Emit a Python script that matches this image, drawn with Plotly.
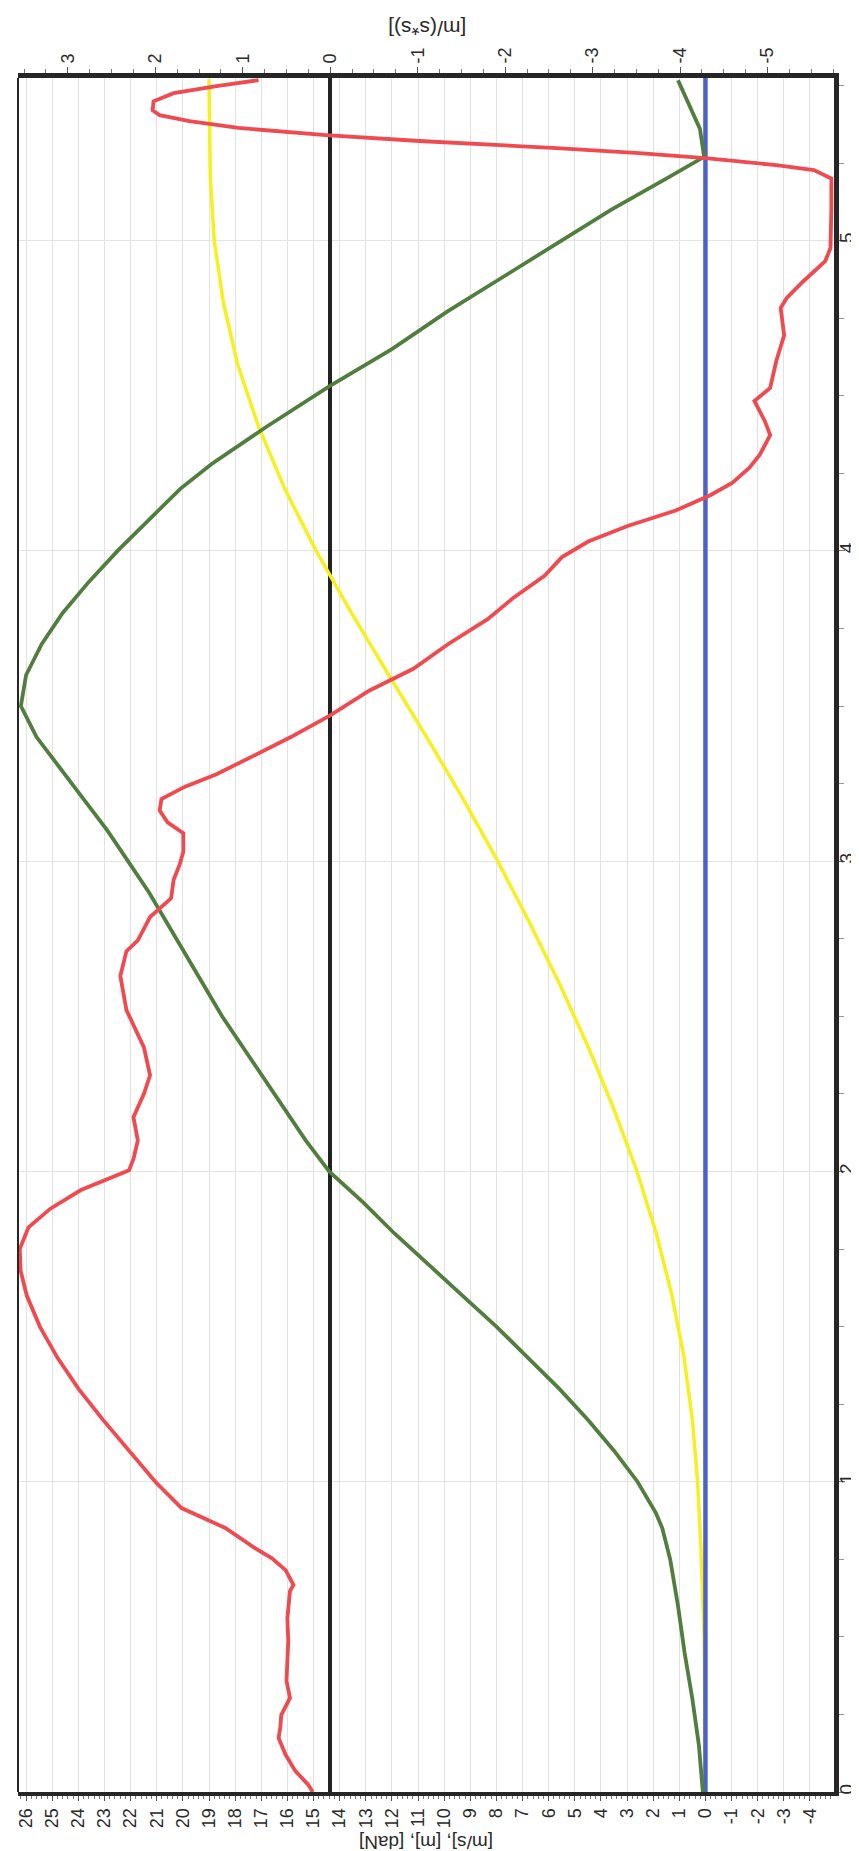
import plotly.graph_objects as go

# ---------------- data ----------------
time_ticks = [0, 1, 2, 3, 4, 5]
primary_ticks = list(range(-4, 27))          # -4 ... 26
secondary_ticks = list(range(-5, 4))         # -5 ... 3

# acceleration [m/(s*s)] (secondary axis) - red
red_t = [0.0, 0.023, 0.068, 0.12, 0.174, 0.21, 0.248, 0.303, 0.358, 0.42, 0.487, 0.56, 0.648, 0.667,
         0.715, 0.754, 0.786, 0.851, 0.915, 1.0, 1.1, 1.2, 1.3, 1.4, 1.5, 1.6, 1.68, 1.75, 1.82, 1.88,
         1.94, 1.97, 2.004, 2.04, 2.1, 2.175, 2.25, 2.31, 2.40, 2.52, 2.63, 2.71, 2.745, 2.82, 2.88,
         2.94, 2.99, 3.03, 3.09, 3.125, 3.163, 3.2, 3.24, 3.28, 3.35, 3.4, 3.47, 3.55, 3.62, 3.7, 3.78,
         3.85, 3.92, 3.98, 4.03, 4.08, 4.13, 4.18, 4.22, 4.267, 4.309, 4.373, 4.418, 4.483, 4.525,
         4.612, 4.695, 4.783, 4.815, 4.869, 4.934, 4.976, 5.105, 5.2, 5.227, 5.243, 5.266, 5.282,
         5.298, 5.321, 5.34, 5.363, 5.385, 5.404, 5.42, 5.449, 5.475, 5.498, 5.517]
red_a = [0.2, 0.25, 0.40, 0.51, 0.59, 0.57, 0.56, 0.46, 0.50, 0.49, 0.48, 0.49, 0.46, 0.42,
         0.51, 0.67, 0.86, 1.20, 1.70, 2.0, 2.3, 2.6, 2.88, 3.12, 3.32, 3.47, 3.54, 3.55, 3.45, 3.2,
         2.85, 2.6, 2.3, 2.25, 2.2, 2.25, 2.13, 2.06, 2.13, 2.33, 2.40, 2.33, 2.2, 2.06, 1.82,
         1.79, 1.72, 1.68, 1.68, 1.86, 1.95, 1.93, 1.66, 1.3, 0.8, 0.45, 0.0, -0.45, -0.95, -1.35, -1.8,
         -2.1, -2.45, -2.65, -2.95, -3.4, -3.95, -4.35, -4.6, -4.79, -4.91, -5.03, -4.97, -4.85, -5.03,
         -5.10, -5.19, -5.15, -5.22, -5.41, -5.66, -5.72, -5.73, -5.73, -5.53, -5.10, -4.29, -3.53,
         -2.59, -1.02, 0.05, 1.05, 1.61, 1.95, 2.03, 2.02, 1.79, 1.30, 0.82]

# velocity (primary axis) - green
green_t = [0.0, 0.15, 0.3, 0.45, 0.6, 0.75, 0.85, 0.9, 1.0, 1.1, 1.2, 1.3, 1.4, 1.5, 1.6, 1.7, 1.8,
           1.9, 2.0, 2.1, 2.2, 2.3, 2.4, 2.5, 2.6, 2.7, 2.8, 2.9, 3.0, 3.1, 3.2, 3.3, 3.4, 3.5, 3.6,
           3.7, 3.8, 3.9, 4.0, 4.1, 4.2, 4.28, 4.4, 4.53, 4.65, 4.77, 4.88, 4.99, 5.1, 5.2, 5.27,
           5.36, 5.45, 5.517]
green_v = [0.1, 0.25, 0.5, 0.8, 1.05, 1.35, 1.65, 1.9, 2.6, 3.5, 4.5, 5.6, 6.8, 8.0, 9.3, 10.6, 11.9,
           13.1, 14.4, 15.3, 16.1, 16.9, 17.7, 18.5, 19.2, 19.9, 20.6, 21.3, 22.1, 22.9, 23.8, 24.7,
           25.6, 26.2, 26.0, 25.4, 24.6, 23.6, 22.5, 21.3, 20.1, 18.9, 16.8, 14.4, 12.0, 9.9, 7.8, 5.7,
           3.6, 1.5, 0.05, 0.21, 0.67, 1.05]

# distance (primary axis) - yellow
yellow_t = [0.0, 0.5, 0.8, 1.0, 1.2, 1.4, 1.6, 1.8, 2.0, 2.2, 2.4, 2.6, 2.8, 3.0, 3.2, 3.4, 3.6,
            3.8, 4.0, 4.2, 4.4, 4.6, 4.8, 5.0, 5.2, 5.52]
yellow_s = [0.0, 0.05, 0.18, 0.3, 0.5, 0.82, 1.28, 1.88, 2.62, 3.5, 4.48, 5.56, 6.72, 7.95, 9.27,
            10.67, 12.12, 13.55, 14.9, 16.1, 17.1, 17.9, 18.45, 18.8, 18.95, 19.0]

# force (primary axis) - blue
blue_t = [0.0, 5.524]
blue_f = [0.0, 0.0]

primary_title = "[m/s], [m], [daN]"
secondary_title = "[m/(s*s)]"

# ---------------- figure ----------------
W, H = 859, 1851
ML, MR, MT, MB = 10, 33, 70, 67
FONT = "Liberation Sans, Arial, sans-serif"

fig = go.Figure()
fig.add_trace(go.Scatter(x=yellow_s, y=yellow_t, mode="lines", xaxis="x", yaxis="y",
                         line=dict(color="#F6F01E", width=3.5), showlegend=False))
fig.add_trace(go.Scatter(x=blue_f, y=blue_t, mode="lines", xaxis="x", yaxis="y",
                         line=dict(color="#4E62C4", width=4.5), showlegend=False))
fig.add_trace(go.Scatter(x=green_v, y=green_t, mode="lines", xaxis="x", yaxis="y",
                         line=dict(color="#517E3E", width=3.8), showlegend=False))
fig.add_trace(go.Scatter(x=red_a, y=red_t, mode="lines", xaxis="x2", yaxis="y",
                         line=dict(color="#EE4A50", width=3.8), showlegend=False))

tickfont = dict(family=FONT, size=18, color="#2a2a2a")

fig.update_layout(
    width=W, height=H,
    margin=dict(l=ML, r=MR, t=MT, b=MB),
    paper_bgcolor="white", plot_bgcolor="white",
    xaxis=dict(range=[26.31, -4.92], side="bottom", anchor="y",
               tickmode="array", tickvals=primary_ticks, ticktext=[str(v) for v in primary_ticks],
               tickangle=-90, tickfont=tickfont,
               ticks="outside", ticklen=5, tickwidth=1, tickcolor="#555",
               minor=dict(dtick=0.2, ticks="outside", ticklen=3, tickcolor="#777", showgrid=False),
               showgrid=True, gridcolor="#e2e2e2", gridwidth=1,
               zeroline=False, showline=True, linewidth=4, linecolor="#262626",
               automargin=False),
    xaxis2=dict(range=[3.57, -5.76], side="top", overlaying="x", anchor="y",
                tickmode="array", tickvals=secondary_ticks,
                ticktext=[str(v) for v in secondary_ticks],
                tickangle=-90, tickfont=tickfont,
                ticks="outside", ticklen=6, tickwidth=1, tickcolor="#555",
                minor=dict(dtick=0.25, ticks="outside", ticklen=4, tickcolor="#777", showgrid=False),
                showgrid=False, zeroline=True, zerolinecolor="#222", zerolinewidth=4,
                showline=True, linewidth=5, linecolor="#262626", automargin=False),
    yaxis=dict(range=[0, 5.524], side="right", anchor="x",
               tickmode="array", tickvals=time_ticks, ticktext=[str(v) for v in time_ticks],
               tickangle=-90, tickfont=dict(family=FONT, size=19, color="#2a2a2a"),
               ticklabelstandoff=-15,
               ticks="outside", ticklen=6, tickwidth=1, tickcolor="#777",
               minor=dict(dtick=0.25, ticks="outside", ticklen=5, tickcolor="#999", showgrid=False),
               showgrid=True, gridcolor="#e4e4e4", gridwidth=1,
               zeroline=False, showline=True, linewidth=5, linecolor="#262626",
               automargin=False),
    shapes=[dict(type="line", xref="paper", yref="paper", x0=0, x1=0, y0=0, y1=1,
                 line=dict(color="#262626", width=2))],
    annotations=[
        dict(text=primary_title, xref="paper", yref="paper", x=0.5,
             y=-(1835 - (H - MB)) / (H - MT - MB), xanchor="center", yanchor="middle",
             textangle=180, showarrow=False,
             font=dict(family=FONT, size=19, color="#2a2a2a")),
        dict(text=secondary_title, xref="paper", yref="paper", x=0.502,
             y=1 + (MT - 21) / (H - MT - MB), xanchor="center", yanchor="middle",
             textangle=180, showarrow=False,
             font=dict(family=FONT, size=21, color="#2a2a2a")),
    ],
)

fig.write_html("out.html")
